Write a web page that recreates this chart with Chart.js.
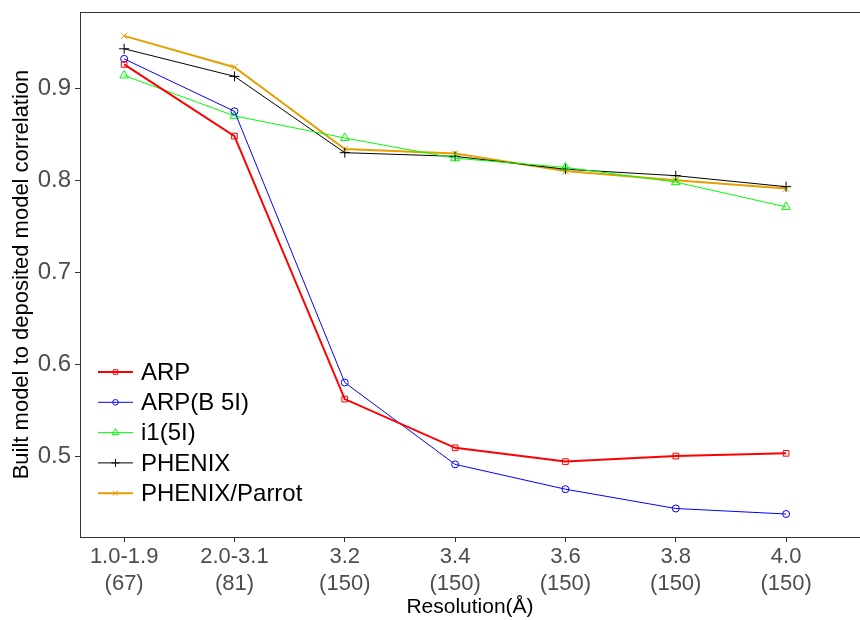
<!DOCTYPE html>
<html>
<head>
<meta charset="utf-8">
<script src="https://cdn.jsdelivr.net/npm/chart.js@4/dist/chart.umd.min.js"></script>
<style>
  body { margin: 0; background: #fff; }
  #wrap { width: 860px; height: 620px; }
</style>
</head>
<body>
<div id="wrap"><canvas id="corr" width="860" height="620"></canvas></div>
<script>
// resolution bins and number of models in each
const resolutions = ['1.0-1.9', '2.0-3.1', '3.2', '3.4', '3.6', '3.8', '4.0'];
const counts = [67, 81, 150, 150, 150, 150, 150];
const yTicks = [0.5, 0.6, 0.7, 0.8, 0.9];

// correlation per method
const arp = [0.926, 0.848, 0.562, 0.509, 0.494, 0.500, 0.503];
const arpB5I = [0.932, 0.875, 0.580, 0.491, 0.464, 0.443, 0.437];
const i15I = [0.914, 0.870, 0.846, 0.824, 0.814, 0.798, 0.771];
const phenix = [0.943, 0.913, 0.830, 0.826, 0.812, 0.805, 0.793];
const parrot = [0.957, 0.923, 0.834, 0.829, 0.810, 0.800, 0.791];

const FONT = '"Liberation Sans", Arial, sans-serif';

function series(label, values, color, width, style, radius) {
  return {
    label: label,
    data: values.map((v, i) => ({ x: i, y: v })),
    borderColor: color,
    borderWidth: width,
    backgroundColor: color,
    pointStyle: style,
    pointRadius: radius,
    pointBorderWidth: 1,
    pointBorderColor: color,
    pointBackgroundColor: 'rgba(0,0,0,0)',
    tension: 0
  };
}

const datasets = [
  series('ARP', arp, '#ff0000', 2, 'rect', 4),
  series('ARP(B 5I)', arpB5I, '#0000ff', 1, 'circle', 3.5),
  series('i1(5I)', i15I, '#00ff00', 1, 'triangle', 5),
  series('PHENIX', phenix, '#000000', 1, 'cross', 5),
  series('PHENIX/Parrot', parrot, '#e69f00', 2, 'crossRot', 4.5)
];

// frame round the panel and the legend inside it
const framePlugin = {
  id: 'frame',
  afterDraw(chart) {
    const ctx = chart.ctx;
    const a = chart.chartArea;
    ctx.save();
    ctx.strokeStyle = '#333333';
    ctx.lineWidth = 1;
    ctx.strokeRect(a.left + 0.5, a.top + 0.5, a.right - a.left, a.bottom - a.top);

    ctx.textAlign = 'left';
    ctx.textBaseline = 'middle';
    ctx.font = '24px ' + FONT;
    let y = a.bottom - 165;
    chart.data.datasets.forEach(ds => {
      const x0 = a.left + 18, x1 = a.left + 53;
      ctx.strokeStyle = ds.borderColor;
      ctx.lineWidth = ds.borderWidth;
      ctx.beginPath();
      ctx.moveTo(x0, y);
      ctx.lineTo(x1, y);
      ctx.stroke();
      ctx.lineWidth = 1;
      ctx.fillStyle = 'rgba(0,0,0,0)';
      Chart.helpers.drawPoint(ctx, {
        pointStyle: ds.pointStyle,
        radius: ds.pointRadius * 0.8,
        borderWidth: 1
      }, (x0 + x1) / 2, y);
      ctx.fillStyle = '#000';
      ctx.fillText(ds.label, a.left + 61, y + 1);
      y += 30.3;
    });
    ctx.restore();
  }
};

new Chart(document.getElementById('corr'), {
  type: 'line',
  data: { datasets: datasets },
  plugins: [framePlugin],
  options: {
    responsive: false,
    animation: false,
    layout: { autoPadding: false, padding: { top: 12, right: 0, left: 0, bottom: 0 } },
    plugins: { legend: { display: false }, tooltip: { enabled: false } },
    scales: {
      x: {
        type: 'linear',
        min: -0.4,
        max: 6.67,
        afterBuildTicks: s => { s.ticks = resolutions.map((r, i) => ({ value: i })); },
        afterFit: s => { s.height = 83; },
        ticks: {
          autoSkip: false,
          maxRotation: 0,
          padding: 2,
          color: '#4d4d4d',
          font: { family: FONT, size: 22, lineHeight: 1.2 },
          callback: v => [resolutions[v], '(' + counts[v] + ')']
        },
        grid: { drawOnChartArea: false, tickLength: 5, color: '#333333' },
        border: { color: '#333333' },
        title: {
          display: true,
          text: 'Resolution(Å)',
          color: '#000',
          padding: { top: 0, bottom: 0 },
          font: { family: FONT, size: 21 }
        }
      },
      y: {
        min: 0.412,
        max: 0.983,
        afterBuildTicks: s => { s.ticks = yTicks.map(v => ({ value: v })); },
        afterFit: s => { s.width = 80; },
        ticks: {
          padding: 4,
          color: '#4d4d4d',
          font: { family: FONT, size: 24, lineHeight: 0.5 },
          callback: v => v.toFixed(1)
        },
        grid: { drawOnChartArea: false, tickLength: 5, color: '#333333' },
        border: { color: '#333333' },
        title: {
          display: true,
          text: 'Built model to deposited model correlation',
          color: '#000',
          padding: { top: 9, bottom: 0 },
          font: { family: FONT, size: 22 }
        }
      }
    }
  }
});
</script>
</body>
</html>
